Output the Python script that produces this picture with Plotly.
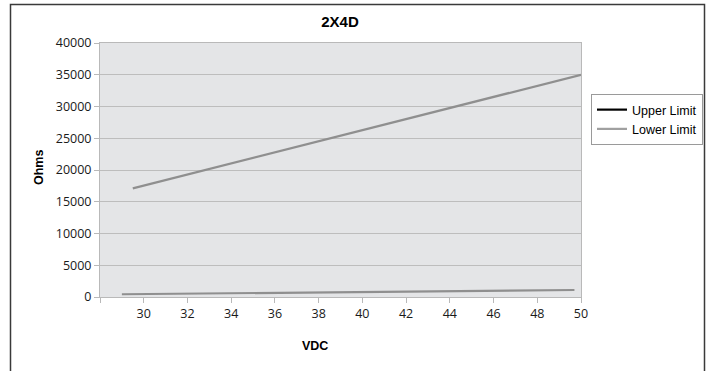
import plotly.graph_objects as go

# Data
upper_x = [29.0, 37.5, 49.7]
upper_y = [430, 740, 1100]
lower_x = [29.5, 38.5, 50.0]
lower_y = [17100, 25000, 35000]

x_tickvals = [28, 30, 32, 34, 36, 38, 40, 42, 44, 46, 48, 50]
x_ticktext = ["", "30", "32", "34", "36", "38", "40", "42", "44", "46", "48", "50"]
y_tickvals = [0, 5000, 10000, 15000, 20000, 25000, 30000, 35000, 40000]
y_ticktext = ["0", "5000", "10000", "15000", "20000", "25000", "30000", "35000", "40000"]

W, H = 709, 371
SL, ST, SR, SB = 100, 43, 581, 297
L, T, R, B = SL, ST, W - SR, H - SB
pw, ph = W - L - R, H - T - B

def px(xs):
    return (xs - SL) / pw

def py(ys):
    return (SB - ys) / ph

fig = go.Figure()
fig.add_trace(go.Scatter(x=upper_x, y=upper_y, mode="lines", name="Upper Limit",
                         line=dict(color="#8f8f8f", width=2.2), showlegend=False,
                         legendgroup="u"))
fig.add_trace(go.Scatter(x=lower_x, y=lower_y, mode="lines", name="Lower Limit",
                         line=dict(color="#8f8f8f", width=2.2), showlegend=False,
                         legendgroup="l"))
fig.add_trace(go.Scatter(x=[None], y=[None], mode="lines", name="Upper Limit",
                         line=dict(color="#000000", width=2.2), legendgroup="u"))
fig.add_trace(go.Scatter(x=[None], y=[None], mode="lines", name="Lower Limit",
                         line=dict(color="#a0a0a0", width=2.2), legendgroup="l"))

axis_col = "#b9b9b9"
fig.update_layout(
    width=W, height=H,
    margin=dict(l=L, r=R, t=T, b=B, autoexpand=False),
    paper_bgcolor="white",
    plot_bgcolor="#e4e5e7",
    font=dict(family="Open Sans", size=12, color="#1a1a1a"),
    title=dict(text="<b>2X4D</b>", x=px(340), xanchor="center", xref="paper",
               y=1 - 22 / H, yanchor="middle",
               font=dict(family="Liberation Sans", size=15, color="#000")),
    xaxis=dict(range=[28, 50], tickvals=x_tickvals, ticktext=x_ticktext,
               showgrid=False, zeroline=False, showline=True, linecolor=axis_col,
               linewidth=1, mirror=True, ticks="outside", ticklen=5,
               tickcolor=axis_col, tickfont=dict(size=12.5)),
    yaxis=dict(range=[0, 40000], tickvals=y_tickvals, ticktext=y_ticktext,
               showgrid=True, gridcolor="#bdbdbd", gridwidth=1, zeroline=False,
               showline=True, linecolor=axis_col, linewidth=1, mirror=True,
               ticks="outside", ticklen=5, tickcolor=axis_col,
               tickfont=dict(size=12.5)),
    legend=dict(x=px(591), y=py(94), xanchor="left", yanchor="top",
                bgcolor="white", bordercolor="#9a9a9a", borderwidth=1,
                font=dict(family="Liberation Sans", size=12.5, color="#000"),
                tracegroupgap=0, itemwidth=30),
    showlegend=True,
)

fig.add_annotation(text="<b>VDC</b>", xref="paper", yref="paper",
                   x=px(315), y=py(346), xanchor="center", yanchor="middle",
                   showarrow=False,
                   font=dict(family="Liberation Sans", size=12.5, color="#000"))
fig.add_annotation(text="<b>Ohms</b>", xref="paper", yref="paper",
                   x=px(39), y=py(168), xanchor="center", yanchor="middle",
                   showarrow=False, textangle=-90,
                   font=dict(family="Liberation Sans", size=12.5, color="#000"))

fig.add_shape(type="rect", xref="paper", yref="paper",
              x0=px(10.5), x1=px(704.5), y0=py(380), y1=py(4.5),
              line=dict(color="#3a3a3a", width=1.5), layer="below")

fig.write_html("out.html", config={"displayModeBar": False},
               post_script="document.body.style.margin='0';document.body.style.overflow='hidden';")
